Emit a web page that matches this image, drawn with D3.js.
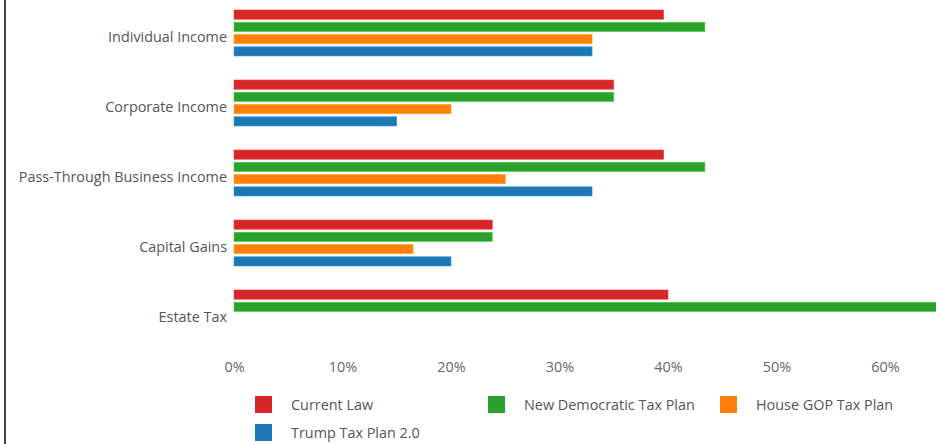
<!DOCTYPE html>
<html>
<head>
<meta charset="utf-8">
<script src="https://cdn.jsdelivr.net/npm/d3@7"></script>
<style>
  html, body { margin: 0; padding: 0; background: #fff; }
  svg { display: block; font-family: "Open Sans", "Noto Sans", sans-serif; }
</style>
</head>
<body>
<svg id="chart" width="936" height="444"></svg>
<script>
const categories = ["Individual Income", "Corporate Income", "Pass-Through Business Income", "Capital Gains", "Estate Tax"];
const seriesNames = ["Current Law", "New Democratic Tax Plan", "House GOP Tax Plan", "Trump Tax Plan 2.0"];
const currentLaw = [39.6, 35, 39.6, 23.8, 40];
const newDemocratic = [43.4, 35, 43.4, 23.8, 65];
const houseGOP = [33, 20, 25, 16.5, null];
const trump = [33, 15, 33, 20, null];
const seriesColors = ["#d62728", "#2ca02c", "#ff7f0e", "#1f77b4"];
const xTicks = [0, 10, 20, 30, 40, 50, 60];

const seriesValues = [currentLaw, newDemocratic, houseGOP, trump];

const svg = d3.select("#chart");

// left frame line
svg.append("line").attr("x1", 5).attr("x2", 5).attr("y1", 0).attr("y2", 444)
  .attr("stroke", "#444").attr("stroke-width", 2);

const x0 = 234;
const x = d3.scaleLinear().domain([0, 10]).range([x0, x0 + 108.5]);

const y = d3.scaleBand().domain(categories).range([0, 346]).paddingInner(0.343).paddingOuter(0.143);
const yInner = d3.scaleBand().domain(seriesNames).range([0, y.bandwidth()]).paddingInner(0.25);

const g = svg.append("g");
categories.forEach((cat, ci) => {
  seriesNames.forEach((s, si) => {
    const v = seriesValues[si][ci];
    if (v == null) return;
    g.append("rect")
      .attr("x", x(0))
      .attr("y", y(cat) + yInner(s))
      .attr("width", x(v) - x(0))
      .attr("height", yInner.bandwidth())
      .attr("fill", seriesColors[si])
      .attr("stroke", d3.color(seriesColors[si]).brighter(0.8))
      .attr("stroke-width", 0.6);
  });
});

// y axis labels
const yAxis = d3.axisLeft(y).tickSize(0).tickPadding(7);
const yg = svg.append("g").attr("transform", `translate(${x0},4)`).call(yAxis);
yg.select(".domain").remove();
yg.selectAll("text").attr("font-size", 14.4).attr("fill", "#555").attr("font-family", "Open Sans, sans-serif");

// x axis labels
const xAxis = d3.axisBottom(x).tickValues(xTicks).tickSize(0).tickPadding(0).tickFormat(d => d + "%");
const xg = svg.append("g").attr("transform", `translate(0,362)`).call(xAxis);
xg.select(".domain").remove();
xg.selectAll("text").attr("font-size", 14.4).attr("fill", "#666").attr("font-family", "Open Sans, sans-serif");

// legend
const legendPos = [[255, 396], [488, 396], [720, 396], [255, 424]];
seriesNames.forEach((s, i) => {
  const [lx, ly] = legendPos[i];
  const lg = svg.append("g").attr("transform", `translate(${lx},${ly})`);
  lg.append("rect").attr("width", 17).attr("height", 17).attr("fill", seriesColors[i]);
  lg.append("text").attr("x", 36).attr("y", 9).attr("dy", "0.35em")
    .attr("font-size", 14.4).attr("fill", "#555").text(s);
});
</script>
</body>
</html>
